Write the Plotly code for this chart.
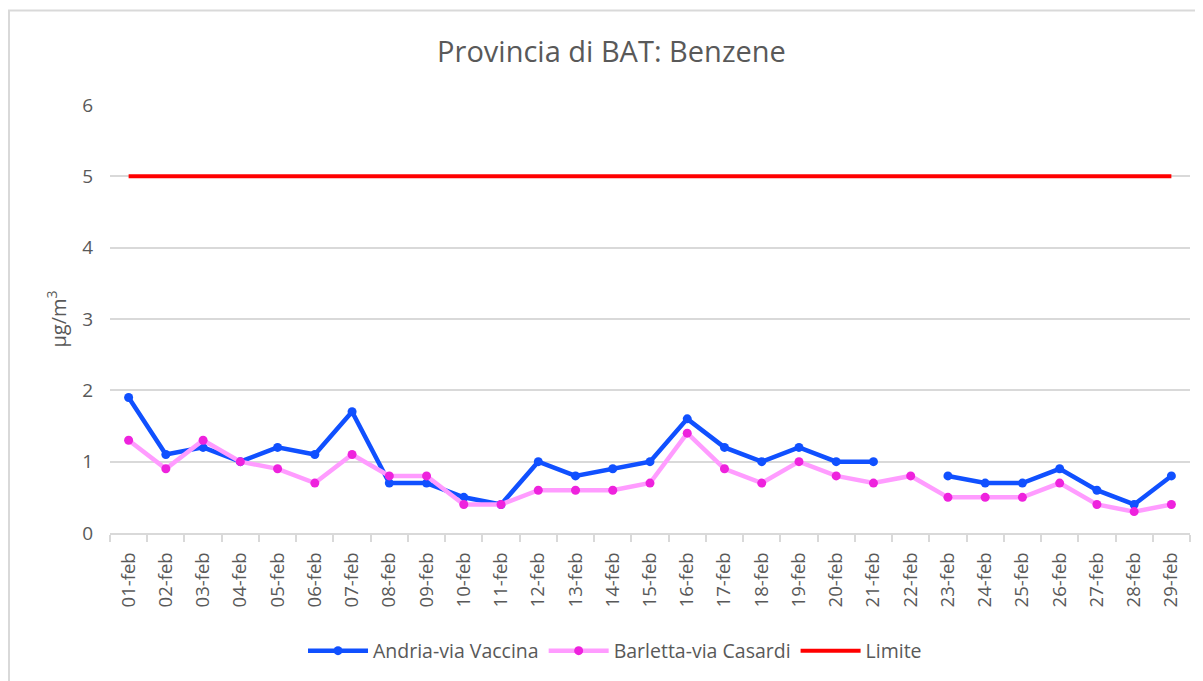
import plotly.graph_objects as go

categories = ["01-feb","02-feb","03-feb","04-feb","05-feb","06-feb","07-feb","08-feb","09-feb","10-feb",
              "11-feb","12-feb","13-feb","14-feb","15-feb","16-feb","17-feb","18-feb","19-feb","20-feb",
              "21-feb","22-feb","23-feb","24-feb","25-feb","26-feb","27-feb","28-feb","29-feb"]
andria = [1.9,1.1,1.2,1.0,1.2,1.1,1.7,0.7,0.7,0.5,0.4,1.0,0.8,0.9,1.0,1.6,1.2,1.0,1.2,1.0,1.0,None,
          0.8,0.7,0.7,0.9,0.6,0.4,0.8]
barletta = [1.3,0.9,1.3,1.0,0.9,0.7,1.1,0.8,0.8,0.4,0.4,0.6,0.6,0.6,0.7,1.4,0.9,0.7,1.0,0.8,0.7,0.8,
            0.5,0.5,0.5,0.7,0.4,0.3,0.4]
limite = [5]*len(categories)
y_ticks = [0,1,2,3,4,5,6]

FONT = "Open Sans, sans-serif"
GRAY = "#595959"

fig = go.Figure()
fig.add_trace(go.Scatter(x=categories, y=andria, name="Andria-via Vaccina", mode="lines+markers",
                         line=dict(color="#1050FF", width=4.5), marker=dict(color="#1050FF", size=9),
                         connectgaps=False))
fig.add_trace(go.Scatter(x=categories, y=barletta, name="Barletta-via Casardi", mode="lines+markers",
                         line=dict(color="#FF9CFF", width=4.5), marker=dict(color="#EE22DD", size=9)))
fig.add_trace(go.Scatter(x=categories, y=limite, name="Limite", mode="lines",
                         line=dict(color="#FF0000", width=4)))

fig.update_layout(
    width=1195, height=673,
    paper_bgcolor="white", plot_bgcolor="white",
    margin=dict(l=102, r=13, t=97, b=147),
    font=dict(family=FONT, color=GRAY, size=18),
    title=dict(text="Provincia di BAT: Benzene", xref="container", x=0.505, xanchor="center",
               yref="container", y=0.9346, yanchor="middle",
               font=dict(size=29, color=GRAY, family=FONT)),
    showlegend=True,
    legend=dict(orientation="h", x=0.4676, xanchor="center", y=-0.2727, yanchor="middle",
                font=dict(size=19.5, color=GRAY, family=FONT), itemwidth=60),
    shapes=[dict(type="rect", xref="paper", yref="paper", x0=-0.0935, x1=1.05, y0=-0.6, y1=1.221,
                 line=dict(color="#d9d9d9", width=2))],
)
fig.update_xaxes(type="category", categoryorder="array", categoryarray=categories,
                 tickangle=-90, ticks="outside", tickson="boundaries", ticklen=7, tickcolor="#d9d9d9",
                 tickwidth=2, ticklabelstandoff=10,
                 showline=True, linecolor="#d9d9d9", linewidth=2, showgrid=False,
                 tickfont=dict(size=18.5, color=GRAY), range=[-0.5, len(categories)-0.5])
fig.update_yaxes(range=[0, 6], tickvals=y_ticks, showgrid=True, gridcolor="#d9d9d9", gridwidth=1.5,
                 zeroline=False, showline=False, ticks="", ticklabelstandoff=16,
                 tickfont=dict(size=19, color=GRAY),
                 title=dict(text="μg/m<sup>3</sup>", font=dict(size=20, color=GRAY), standoff=10))

fig.write_html("out.html")
